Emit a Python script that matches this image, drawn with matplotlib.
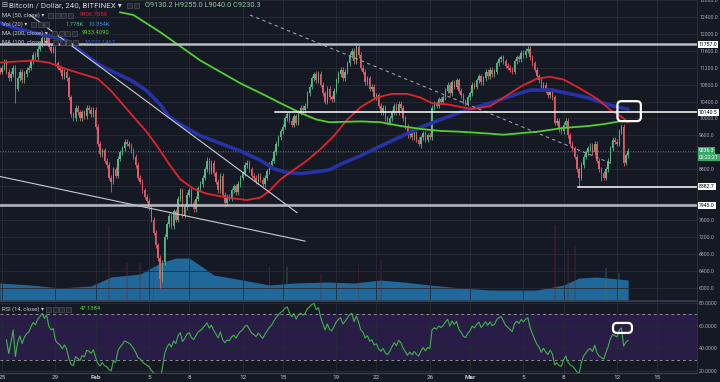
import numpy as np
import pandas as pd
import matplotlib
matplotlib.use("Agg")
from matplotlib import pyplot as plt
from matplotlib.patches import FancyBboxPatch, Rectangle
from matplotlib.transforms import IdentityTransform, blended_transform_factory

plt.rcParams['font.family'] = ['Roboto', 'DejaVu Sans']

# BTC/USD 4h candles (Bitfinex); index 0 = 24 Jan 20:00, index 1 = 25 Jan 00:00
first_open = 11150
closes = [
    11100,
    11200, 11350, 11100, 10950, 11050, 11200,   # Jan 25
    10700, 10950, 11100, 10900, 11050, 11150,   # Jan 26
    11200, 11350, 11500, 11450, 11650, 11750,   # Jan 27
    11900, 11800, 11950, 11700, 11600, 11650,   # Jan 28
    11300, 11200, 11150, 11000, 11100, 10950,   # Jan 29
    10500, 10100, 10000, 10250, 10150, 10000,   # Jan 30
    10150, 10050, 10250, 10200, 10100, 10200,   # Jan 31
    9800, 9400, 9150, 9250, 9000, 8900,         # Feb 1
    8600, 8500, 8800, 8650, 9050, 9200,         # Feb 2
    9300, 9450, 9400, 9350, 9250, 9100,         # Feb 3
    8900, 8600, 8500, 8300, 8150, 8050,         # Feb 4
    7900, 7600, 7300, 7000, 6700, 6200,         # Feb 5
    6600, 7200, 7500, 7700, 7450, 7800,         # Feb 6
    7600, 8100, 8300, 7700, 7900, 8200,         # Feb 7
    8300, 8000, 7850, 8100, 8350, 8450,         # Feb 8
    8600, 8800, 9000, 8750, 8950, 8700,         # Feb 9
    8500, 8300, 8650, 8200, 8000, 8150,         # Feb 10
    8100, 8300, 8400, 8250, 8450, 8600,         # Feb 11
    8700, 8900, 8950, 8800, 8650, 8600,         # Feb 12
    8500, 8650, 8550, 8450, 8600, 8750,         # Feb 13
    8900, 9000, 9200, 9400, 9550, 9700,         # Feb 14
    9800, 10000, 10100, 9950, 9850, 10050,      # Feb 15
    9900, 10150, 10250, 10200, 10300, 10600,    # Feb 16
    10750, 10950, 11050, 10900, 11050, 10800,   # Feb 17
    10600, 10400, 10700, 10500, 10450, 10650,   # Feb 18
    10900, 11050, 11150, 10950, 11100, 11300,   # Feb 19
    11500, 11600, 11350, 11700, 11500, 11200,   # Feb 20
    11100, 10850, 10950, 10700, 10750, 10500,   # Feb 21
    10550, 10300, 10150, 10250, 10000, 9900,    # Feb 22
    10000, 10150, 10300, 10150, 10350, 10250,   # Feb 23
    10000, 9800, 9600, 9700, 9550, 9650,        # Feb 24
    9500, 9400, 9550, 9650, 9500, 9600,         # Feb 25
    9550, 10250, 10350, 10300, 10450, 10400,    # Feb 26
    10500, 10650, 10800, 10600, 10850, 10750,   # Feb 27
    10900, 10650, 10550, 10400, 10350, 10500,   # Feb 28
    10600, 10800, 10750, 10900, 11000, 10850,   # Mar 1
    10950, 11100, 11000, 11150, 11050, 11100,   # Mar 2
    11300, 11400, 11450, 11350, 11250, 11200,   # Mar 3
    11150, 11100, 11350, 11450, 11400, 11550,   # Mar 4
    11500, 11600, 11650, 11450, 11300, 11150,   # Mar 5
    11000, 10900, 10700, 10800, 10650, 10550,   # Mar 6
    10650, 10500, 9900, 9950, 9750, 9700,       # Mar 7
    9850, 9950, 9600, 9400, 9300, 9100,         # Mar 8
    8800, 8600, 8900, 9100, 9200, 9300,         # Mar 9
    9350, 9200, 9400, 9000, 8800, 8700,         # Mar 10
    8600, 8800, 9000, 9300, 9500, 9450,         # Mar 11
    9400, 9700, 9800, 8950, 9130.2, 9230.3,     # Mar 12
]
# long wicks that stand out
hi_k = [20, 57, 93, 141, 160, 237, 279]
hi_val = [12000, 9520, 9080, 11100, 11780, 11720, 9870]
lo_k = [7, 50, 72, 101, 189, 260, 270, 280]
lo_val = [10360, 8250, 6000, 7900, 9300, 8383, 8510, 8880]

# moving averages (candle index, price)
ma50_k = [0, 15, 22, 30, 37, 44, 50, 60, 66, 72, 76, 81, 87, 93, 102, 111, 117, 121, 126, 132, 138, 144,
          150, 156, 162, 169, 176, 183, 189, 194, 201, 207, 212, 220, 226, 234, 241, 247, 253, 260, 268, 274, 279, 282]
ma50_v = [11320, 11370, 11320, 11165, 11050, 10940, 10650, 10040, 9680, 9240, 8920, 8560, 8335, 8220, 8130, 8070, 8130, 8290,
          8560, 8785, 9010, 9280, 9590, 9975, 10270, 10490, 10580, 10580, 10490, 10360, 10330, 10270, 10220, 10290, 10490,
          10760, 10940, 10985, 10920, 10720, 10470, 10200, 10040, 9907]
ma100_k = [0, 6, 30, 45, 60, 66, 72, 76, 81, 90, 99, 108, 117, 123, 129, 135, 142, 148, 153, 162, 171, 180, 189,
           198, 207, 214, 220, 230, 238, 248, 256, 264, 271, 277, 282]
ma100_v = [12265, 12150, 11840, 11255, 10870, 10650, 10330, 10040, 9860, 9590, 9410, 9230, 9010, 8810, 8720, 8695, 8740,
           8785, 8920, 9120, 9350, 9570, 9795, 9975, 10155, 10270, 10360, 10540, 10670, 10670, 10580, 10490, 10360, 10270, 10222]
ma200_k = [54, 60, 72, 81, 90, 99, 108, 117, 126, 135, 142, 148, 162, 171, 180, 189, 198, 207, 220, 226, 241, 253,
           264, 271, 278, 282]
ma200_v = [12510, 12445, 12040, 11705, 11370, 11100, 10830, 10600, 10360, 10130, 9975, 9910, 9930, 9910, 9820, 9750,
           9705, 9685, 9640, 9615, 9685, 9775, 9820, 9865, 9930, 9933]

# volume (K): 20-period average area and a few tall bars
vol_ma_k = [0, 14, 27, 41, 50, 63, 72, 79, 85, 91, 96, 109, 121, 132, 147, 159, 171, 181, 193, 207, 220, 241, 253,
            260, 268, 282]
vol_ma_v = [9, 8, 6.5, 7.5, 12, 13.5, 19, 21.5, 21.5, 17, 13, 10.5, 8, 9, 9.5, 9, 10.5, 9.5, 8, 6.5, 5.5, 5.5, 8,
            11.5, 12, 10.5]
vol_bar_k = [49, 57, 63, 69, 121, 129, 144, 161, 171, 249, 255, 258, 272, 278]
vol_bar_v = [37, 19, 19, 25, 17, 17, 13, 19, 20.5, 38, 25.5, 28, 16.5, 14]

# drawn trendlines (candle index, price)
trend_a_k = [13.6, 133.4]
trend_a_p = [12445, 7773]
trend_b_k = [0.1, 137.0]
trend_b_p = [8627, 7100]
trend_c_k = [112.3, 275.2]
trend_c_p = [12445, 8920]
level_full = [11757.0, 7945.0]
level_part = [10140.5, 8382.7]
level_part_start = [123.5, 259.5]
last_price = 9236.3
countdown = "02:22:21"

day_offsets = [0, 4, 7, 11, 14, 18, 21, 25, 28, 32, 35, 39, 42, 46, 49]
day_labels = ['25', '29', 'Feb', '5', '8', '12', '15', '19', '22', '26', 'Mar', '5', '8', '12', '15']
price_ticks = list(range(6000, 12801, 400))
rsi_ticks = [20, 40, 60, 80]

BG = '#151924'
GRID = '#262b37'
UP = '#55b685'
DN = '#e2596a'
TXT = '#a7aab3'
LAB = 3.7
W, H = 720, 382

fig = plt.figure(figsize=(7.2, 3.82), dpi=100)
fig.patch.set_facecolor(BG)


def px_rect(x0, y0, x1, y1):
    return [x0 / W, 1 - y1 / H, (x1 - x0) / W, (y1 - y0) / H]


ax = fig.add_axes(px_rect(0, 0, 697, 301))
axr = fig.add_axes(px_rect(0, 301, 697, 373), sharex=ax)
xlim = (0.1, 312.9)

# volume behind the price
axv = ax.twinx()
axv.set_ylim(0, 150.5)
axv.fill_between(vol_ma_k, vol_ma_v, color='#21689a', lw=0)
c = np.array(closes, float)
o = np.r_[first_open, c[:-1]]
k = np.arange(len(c))
up = c >= o
bar_cols = ['#2f7a5a' if up[i] else '#6a2a3a' for i in vol_bar_k]
axv.bar(vol_bar_k, vol_bar_v, width=0.8, color=bar_cols, alpha=0.35, lw=0)
axv.axis('off')
ax.set_zorder(axv.get_zorder() + 1)
ax.patch.set_visible(False)

# candles
WICK = 60
hi = np.maximum(o, c) + WICK
lo = np.minimum(o, c) - WICK
hi[hi_k] = hi_val
lo[lo_k] = lo_val
cols = np.where(up, UP, DN)
ax.vlines(k, lo, hi, colors=cols, lw=0.6, zorder=3)
ax.bar(k, np.maximum(np.abs(c - o), 20), bottom=np.minimum(o, c), width=0.65, color=cols, lw=0, zorder=3)

ax.plot(ma100_k, ma100_v, color='#2533a6', lw=2.6, zorder=4, solid_capstyle='round')
ax.plot(ma50_k, ma50_v, color='#e1232b', lw=1.3, zorder=5)
ax.plot(ma200_k, ma200_v, color='#52d12e', lw=1.3, zorder=5)

ax.plot(trend_a_k, trend_a_p, color='#c9ccd2', lw=0.8, zorder=6)
ax.plot(trend_b_k, trend_b_p, color='#c9ccd2', lw=0.8, zorder=6)
ax.plot(trend_c_k, trend_c_p, color='#9a9da6', lw=0.8, ls=(0, (3, 3)), zorder=6)
for lv in level_full:
    ax.axhline(lv, color='#b9bcc3', lw=1.8, zorder=6)
for lv, ks in zip(level_part, level_part_start):
    ax.plot([ks, xlim[1]], [lv, lv], color='white', lw=1.1, zorder=6)
ax.axhline(last_price, color='#55b685', lw=0.6, ls=(0, (1, 2)), alpha=0.8, zorder=2)

ax.set_xlim(*xlim)
ax.set_ylim(5684, 12445)
day_k = [1 + 6 * d for d in day_offsets]
ax.set_xticks(day_k)
ax.set_yticks(price_ticks)
boxed = level_full + level_part + [last_price]
ax.set_yticklabels(['' if min(abs(t - b) for b in boxed) < 100 else f'{t:.1f}' for t in price_ticks])
ax.yaxis.tick_right()
ax.tick_params(axis='y', length=0, pad=1.5, labelsize=LAB, labelcolor=TXT)
ax.tick_params(axis='x', length=0, labelbottom=False)
ax.grid(True, color=GRID, lw=0.6)
for s in ['top', 'left']:
    ax.spines[s].set_visible(False)
ax.spines['bottom'].set_color('#3b3f4b')
ax.spines['bottom'].set_linewidth(1.2)
ax.spines['right'].set_color('#2f333e')
ax.spines['right'].set_linewidth(0.6)

trans = blended_transform_factory(ax.transAxes, ax.transData)
for lv in level_full + level_part:
    ax.text(1.0025, lv, f'{lv:.1f}', transform=trans, fontsize=LAB, color='black', va='center', ha='left',
            bbox=dict(boxstyle='square,pad=0.2', fc='white', ec='none'), clip_on=False, zorder=10)
ax.text(1.0025, last_price, f'{last_price:.1f}', transform=trans, fontsize=LAB, color='white', va='center',
        ha='left', bbox=dict(boxstyle='square,pad=0.2', fc='#3aa86a', ec='none'), clip_on=False, zorder=10)
ax.annotate(countdown, xy=(1.0025, last_price), xycoords=trans, xytext=(0, -7), textcoords='offset pixels',
            fontsize=LAB, color='white', va='center', ha='left', annotation_clip=False,
            bbox=dict(boxstyle='square,pad=0.2', fc='#3aa86a', ec='none'), zorder=10)

# RSI (14) from the closes
s = pd.Series(c)
d = s.diff()
gain = d.clip(lower=0).ewm(alpha=1 / 14, adjust=True).mean()
loss = (-d.clip(upper=0)).ewm(alpha=1 / 14, adjust=True).mean()
rsi = 100 - 100 / (1 + gain / loss)

axr.axhspan(30, 70, color='#291c47', lw=0)
axr.axhline(70, color='#8c8f98', lw=0.7, ls=(0, (3, 3)))
axr.axhline(30, color='#8c8f98', lw=0.7, ls=(0, (3, 3)))
axr.plot(k[3:], rsi[3:], color='#3fb24e', lw=0.8)
axr.set_ylim(18.24, 81.76)
axr.set_yticks(rsi_ticks)
axr.set_yticklabels([f'{t:.4f}' for t in rsi_ticks])
axr.yaxis.tick_right()
axr.set_facecolor(BG)
axr.tick_params(axis='y', length=0, pad=1.5, labelsize=LAB, labelcolor=TXT)
axr.set_xticks(day_k)
axr.set_xticklabels(day_labels)
axr.tick_params(axis='x', length=0, pad=1.5, labelsize=4.6, labelcolor='#c3c6ce')
for lab in axr.get_xticklabels():
    if lab.get_text() in ('Feb', 'Mar'):
        lab.set_fontweight('bold')
axr.grid(True, color=GRID, lw=0.6)
for sp in ['top', 'left']:
    axr.spines[sp].set_visible(False)
axr.spines['bottom'].set_color('#3b3f4b')
axr.spines['right'].set_color('#2f333e')
axr.spines['right'].set_linewidth(0.6)


def round_box(axis, x0, y0, x1, y1):
    p0 = axis.transData.transform((x0, y0))
    p1 = axis.transData.transform((x1, y1))
    fig.add_artist(FancyBboxPatch((min(p0[0], p1[0]), min(p0[1], p1[1])), abs(p1[0] - p0[0]), abs(p1[1] - p0[1]),
                                  boxstyle='round,pad=0,rounding_size=4', transform=IdentityTransform(),
                                  fc='none', ec='white', lw=1.6, zorder=20))


round_box(ax, 277.2, 9937, 287.7, 10408)
round_box(axr, 275.2, 53.6, 283.7, 62.4)


def ptext(x, y, txt, **kw):
    fig.text(x / W, 1 - y / H, txt, va='center', ha='left', **kw)


def buttons(x, y, n):
    for i in range(n):
        fig.add_artist(Rectangle((x + i * 6.5, H - y - 2.5), 5, 5, transform=IdentityTransform(),
                                 fc='#262a35', ec='#4a4e59', lw=0.5, zorder=20))


LEG = 4.2
ptext(1, 5.5, '⊟', fontsize=5.2, color='#d1d4dc')
ptext(9, 5.5, 'Bitcoin / Dollar, 240, BITFINEX ▾', fontsize=5.8, color='#d1d4dc')
buttons(127, 5.5, 2)
ptext(145, 5.5, 'O9130.2 H9255.0 L9040.0 C9230.3', fontsize=5.3, color='#8fcca3')
ptext(2, 15, 'MA (50, close) ▾', fontsize=LEG, color='#c5c8d0')
buttons(48, 15, 4)
ptext(80, 15, '9906.7859', fontsize=LEG, color='#e1232b')
ptext(2, 24, 'Vol (20) ▾', fontsize=LEG, color='#c5c8d0')
buttons(31, 24, 3)
ptext(66, 24, '1.778K', fontsize=LEG, color='#55b685')
ptext(89, 24, '10.354K', fontsize=LEG, color='#3d8fd8')
ptext(2, 33, 'MA (200, close) ▾', fontsize=LEG, color='#c5c8d0')
buttons(52, 33, 4)
ptext(82, 33, '9933.4090', fontsize=LEG, color='#52d12e')
ptext(2, 42, 'MA (100, close) ▾', fontsize=LEG, color='#c5c8d0')
buttons(53, 42, 4)
ptext(85, 42, '10222.1467', fontsize=LEG, color='#2f5fd0')
ptext(2, 309, 'RSI (14, close) ▾', fontsize=LEG, color='#c5c8d0')
buttons(46, 309, 4)
ptext(80, 309, '47.1384', fontsize=LEG, color='#55d13a')

fig.savefig('out.png', dpi=100, facecolor=BG)
